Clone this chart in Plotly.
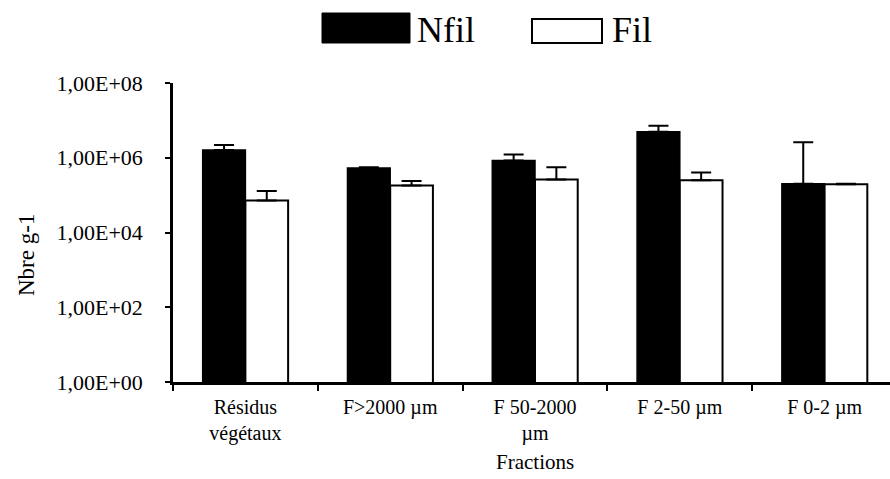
import plotly.graph_objects as go

categories = ["Résidus<br>végétaux", "F>2000 µm", "F 50-2000<br>µm", "F 2-50 µm", "F 0-2 µm"]
nfil = [1.6e6, 5.3e5, 8.5e5, 5.0e6, 2.0e5]
nfil_err = [0.6e6, 0.3e5, 3.8e5, 2.2e6, 2.4e6]
fil = [7.2e4, 1.8e5, 2.6e5, 2.5e5, 1.95e5]
fil_err = [5.6e4, 0.6e5, 3.0e5, 1.5e5, 0.55e4]
ytickvals = [1, 1e2, 1e4, 1e6, 1e8]
yticktext = ["1,00E+00", "1,00E+02", "1,00E+04", "1,00E+06", "1,00E+08"]

W, H = 890, 479
L, R, T, B = 173, 0, 83, 97
PW, PH = W - L - R, H - T - B
FONT = "Liberation Serif"

def px(x):
    return (x - L) / PW

def py(y):
    return (H - B - y) / PH

fig = go.Figure()
fig.add_trace(go.Bar(
    x=categories, y=nfil, name="Nfil",
    marker=dict(color="black", line=dict(color="black", width=1.5)),
    error_y=dict(type="data", array=nfil_err, arrayminus=[0]*5, symmetric=False,
                 color="black", thickness=2, width=10),
))
fig.add_trace(go.Bar(
    x=categories, y=fil, name="Fil",
    marker=dict(color="white", line=dict(color="black", width=2)),
    error_y=dict(type="data", array=fil_err, arrayminus=[0]*5, symmetric=False,
                 color="black", thickness=2, width=10),
))

fig.update_layout(
    width=W, height=H,
    margin=dict(l=L, r=R, t=T, b=B, pad=0, autoexpand=False),
    paper_bgcolor="white", plot_bgcolor="white",
    barmode="group", bargap=0.41, bargroupgap=0,
    showlegend=False,
    font=dict(family=FONT, color="black", size=20),
)
fig.update_xaxes(
    type="category", range=[-0.5, -0.5 + PW / 144.8], automargin=False,
    showline=True, linecolor="black", linewidth=2.5,
    ticks="outside", tickson="boundaries", ticklen=6, tickwidth=2, tickcolor="black",
    tickfont=dict(family=FONT, size=20, color="black"),
    ticklabelstandoff=5,
    showgrid=False, zeroline=False,
)
fig.update_yaxes(
    type="log", range=[0, 8], automargin=False,
    tickvals=ytickvals, ticktext=yticktext,
    showline=True, linecolor="black", linewidth=2.5,
    ticks="outside", ticklen=5, tickwidth=2, tickcolor="black",
    tickfont=dict(family=FONT, size=22, color="black"),
    ticklabelstandoff=18,
    showgrid=False, zeroline=False,
)

# axis titles
fig.add_annotation(text="Fractions", xref="x", yref="paper", x=2, y=py(462),
                   showarrow=False, xanchor="center", yanchor="middle",
                   font=dict(family=FONT, size=21, color="black"))
fig.add_annotation(text="Nbre g-1", xref="paper", yref="paper", x=px(26), y=py(255),
                   showarrow=False, textangle=-90, xanchor="center", yanchor="middle",
                   font=dict(family=FONT, size=23, color="black"))

# legend drawn manually (big swatches)
fig.add_shape(type="rect", xref="paper", yref="paper",
              x0=px(322), x1=px(410), y0=py(43), y1=py(13),
              fillcolor="black", line=dict(color="black", width=1))
fig.add_annotation(text="Nfil", xref="paper", yref="paper", x=px(415), y=py(30),
                   showarrow=False, xanchor="left", yanchor="middle",
                   font=dict(family=FONT, size=36, color="black"))
fig.add_shape(type="rect", xref="paper", yref="paper",
              x0=px(532), x1=px(602), y0=py(43), y1=py(19),
              fillcolor="white", line=dict(color="black", width=2))
fig.add_annotation(text="Fil", xref="paper", yref="paper", x=px(610), y=py(30),
                   showarrow=False, xanchor="left", yanchor="middle",
                   font=dict(family=FONT, size=36, color="black"))

fig.write_html(
    "out.html",
    config={"displayModeBar": False},
    post_script="document.body.style.margin='0';document.body.style.overflow='hidden';",
)
